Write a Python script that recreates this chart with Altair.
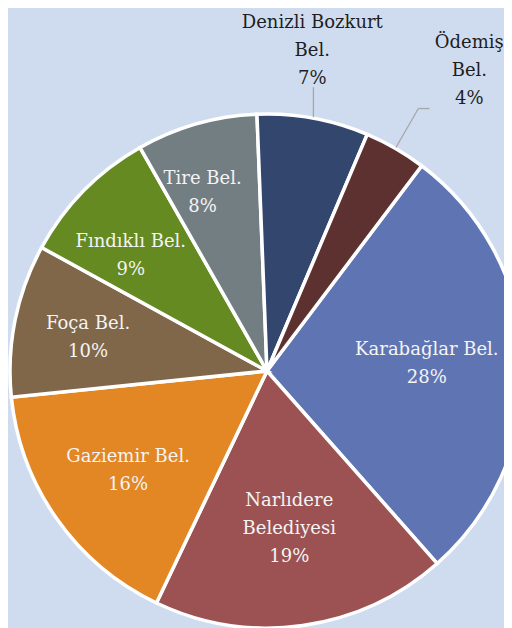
import math
import altair as alt
import pandas as pd

# ---- data ----
names = ["Karabağlar Bel.", "Narlıdere Belediyesi", "Gaziemir Bel.", "Foça Bel.",
         "Fındıklı Bel.", "Tire Bel.", "Denizli Bozkurt Bel.", "Ödemiş Bel."]
labels = ["Karabağlar Bel.", "Narlıdere\nBelediyesi", "Gaziemir Bel.", "Foça Bel.",
          "Fındıklı Bel.", "Tire Bel.", "Denizli Bozkurt\nBel.", "Ödemiş\nBel."]
values = [28.2, 18.6, 16.3, 9.6, 8.8, 7.6, 7.0, 3.9]

# ---- styles ----
colors = ["#5f75b3", "#9c5252", "#e38624", "#80674a", "#658a21", "#737e83", "#33466e", "#5e3131"]
BG = "#cfdcef"
FONT = "DejaVu Serif"
W, H = 496, 620
CX, CY = 259, 363
R = 257
LH = 28
START = math.radians(37)
# label placement: radius and angular nudge (deg) per slice
LAB_R = [160, 160, 171, 182, 178, 189, 323, 362]
LAB_DA = [-0.3, 0, -0.5, -1.0, -4.5, -4.0, -2.3, 4.0]
OUTSIDE = [6, 7]

df = pd.DataFrame({"name": names, "label": labels, "value": values,
                   "order": list(range(len(names)))})

base = alt.Chart(df)

arcs = base.mark_arc(outerRadius=R, stroke="white", strokeWidth=3.5).encode(
    theta=alt.Theta("value:Q", stack=True,
                    scale=alt.Scale(domain=[0, sum(values)], range=[START, START + 2 * math.pi])),
    order=alt.Order("order:Q"),
    color=alt.Color("name:N", scale=alt.Scale(domain=names, range=colors), legend=None),
    x=alt.value(CX), y=alt.value(CY),
)

geo = base.transform_joinaggregate(total="sum(value)").transform_window(
    cum="sum(value)", sort=[alt.SortField("order")], frame=[None, 0]
).transform_calculate(
    mid=f"{START} + 2*PI*(datum.cum - datum.value/2)/datum.total"
)

out_test = " || ".join(f"datum.order == {i}" for i in OUTSIDE)

text = geo.transform_calculate(
    lr=f"{LAB_R}[datum.order]",
    la=f"datum.mid + {LAB_DA}[datum.order]*PI/180",
    txt="datum.label + '\\n' + format(datum.value/100, '.0%')",
    nl="split(datum.txt, '\\n').length",
    lx=f"{CX} + datum.lr*sin(datum.la)",
    ly=f"{CY} - datum.lr*cos(datum.la) - (datum.nl - 1)*{LH}/2",
    tc=f"({out_test}) ? '#1e1e1e' : '#f4f4f4'",
).mark_text(font=FONT, fontSize=18, lineBreak="\n", lineHeight=LH,
            align="center", baseline="middle").encode(
    x=alt.X("lx:Q", scale=None, axis=None),
    y=alt.Y("ly:Q", scale=None, axis=None),
    text="txt:N",
    color=alt.Color("tc:N", scale=None),
)

lead = geo.transform_filter(out_test).transform_calculate(
    ex=f"{CX} + {R + 1}*sin(datum.mid)",
    ey=f"{CY} - {R + 1}*cos(datum.mid)",
    bx=f"datum.order == 6 ? datum.ex : {CX} + {R + 46}*sin(datum.mid)",
    by=f"datum.order == 6 ? datum.ey - 30 : {CY} - {R + 46}*cos(datum.mid)",
    hx="datum.order == 6 ? datum.bx : datum.bx + 11",
)

lead1 = lead.mark_rule(color="#a6a6a6", strokeWidth=1.3).encode(
    x=alt.X("ex:Q", scale=None, axis=None), y=alt.Y("ey:Q", scale=None, axis=None),
    x2="bx:Q", y2="by:Q")
lead2 = lead.mark_rule(color="#a6a6a6", strokeWidth=1.3).encode(
    x=alt.X("bx:Q", scale=None, axis=None), y=alt.Y("by:Q", scale=None, axis=None),
    x2="hx:Q", y2="by:Q")

chart = alt.layer(arcs, lead1, lead2, text).properties(
    width=W, height=H, background=BG,
    autosize=alt.AutoSizeParams(type="none"), padding=0,
).configure_view(stroke=None)

chart.save("out.html", embed_options={"renderer": "svg", "actions": False})
